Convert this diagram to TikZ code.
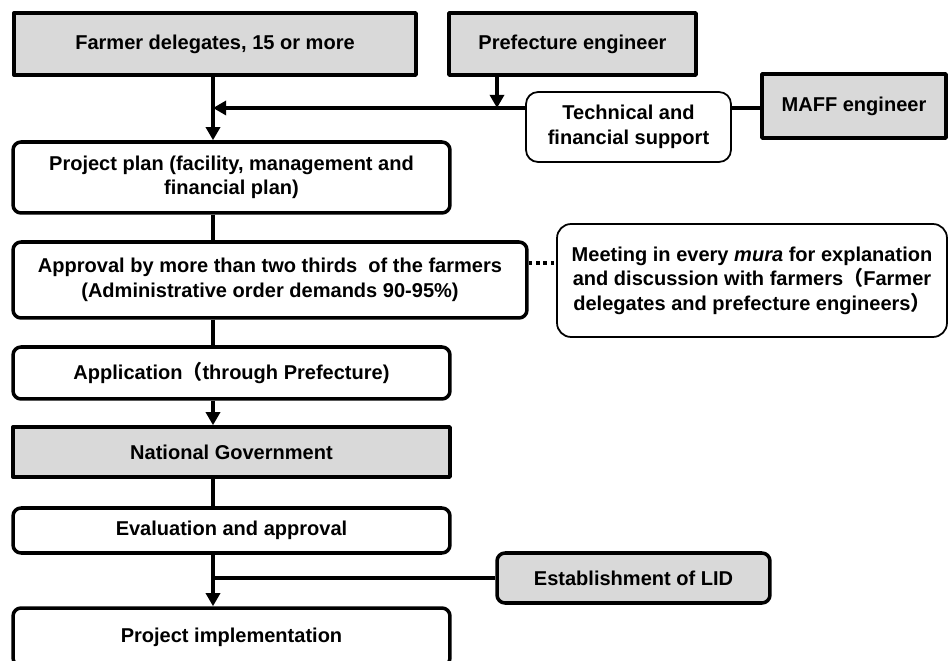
\documentclass[tikz,border=0pt]{standalone}
\usepackage{fontspec}
\setmainfont{Liberation Sans}
\newfontfamily\cjk{Noto Sans CJK JP}
\usetikzlibrary{arrows.meta,calc,positioning}
\definecolor{boxgray}{RGB}{217,217,217}
\tikzset{
  box/.style={draw=black,line width=2pt,align=center,inner sep=2pt,
    font=\bfseries\fontsize{11.4}{14}\selectfont},
  graybox/.style={box,fill=boxgray},
  roundbox/.style={box,fill=white,rounded corners=0.16cm},
  softbox/.style={box,fill=white,line width=1pt,rounded corners=0.28cm},
  link/.style={line width=2pt},
}

\begin{document}
\begin{tikzpicture}[x=0.02cm,y=-0.02cm,>={Triangle[width=8pt,length=7.5pt]},line join=round]
\useasboundingbox (0,0) rectangle (949,661);
\clip (0,0) rectangle (949,661);
% Uczestnicy u góry i wsparcie techniczne.
\node[graybox,minimum width=8.04cm,minimum height=1.24cm] (farmers) at (215,44)
 {Farmer delegates, 15 or more};
\node[graybox,minimum width=4.94cm,minimum height=1.24cm] (prefeng) at (572.5,44)
 {Prefecture engineer};
\node[graybox,minimum width=3.68cm,minimum height=1.28cm] (maff) at (854,106)
 {MAFF engineer};
\node[softbox,rounded corners=0.24cm,minimum width=4.1cm,minimum height=1.4cm] (support) at (628.5,127)
 {Technical and\\financial support};
% Główny ciąg procedury.
\node[roundbox,minimum width=8.74cm,minimum height=1.42cm] (plan) at (231.5,177.5)
 {Project plan (facility, management and\\financial plan)};
\node[roundbox,minimum width=10.28cm,minimum height=1.52cm] (approval) at (270,280)
 {Approval by more than two thirds\ \ of the farmers\\(Administrative order demands 90-95\%)};
\node[softbox,minimum width=7.8cm,minimum height=2.26cm] (meeting) at (752,280.5)
 {Meeting in every \textit{mura} for explanation\\and discussion with farmers{\cjk （}Farmer\\delegates and prefecture engineers{\cjk ）}};
\node[roundbox,minimum width=8.74cm,minimum height=1.04cm] (application) at (231.5,373)
 {Application{\cjk （}through Prefecture)};
\node[graybox,minimum width=8.74cm,minimum height=1.0cm] (govt) at (231.5,452)
 {National Government};
\node[roundbox,minimum width=8.74cm,minimum height=0.9cm] (evaluation) at (231.5,530.5)
 {Evaluation and approval};
\node[graybox,rounded corners=0.16cm,minimum width=5.46cm,minimum height=1.0cm] (lid) at (633.5,578)
 {Establishment of LID};
\node[roundbox,minimum width=8.74cm,minimum height=1.16cm] (implementation) at (231.5,637)
 {Project implementation};
% Połączenia.
\coordinate (trunk) at (213,0);
\coordinate (drop) at (497,108);
\coordinate (talk) at (540,263);
\draw[link,->] (farmers.south -| trunk) -- (plan.north -| trunk);
\draw[link,->] (prefeng.south -| drop) -- (drop);
\draw[link,->] (support.west |- drop) -- (drop -| trunk);
\draw[link] (support.east |- drop) -- (maff.west |- drop);
\draw[link] (plan.south -| trunk) -- (approval.north -| trunk);
\draw[link,dash pattern=on 2pt off 2.2pt] (approval.east |- talk) -- (meeting.west |- talk);
\draw[link] (approval.south -| trunk) -- (application.north -| trunk);
\draw[link,->] (application.south -| trunk) -- (govt.north -| trunk);
\draw[link] (govt.south -| trunk) -- (evaluation.north -| trunk);
\draw[link,->] (evaluation.south -| trunk) -- (implementation.north -| trunk);
\draw[link] (lid.west) -- (lid.west -| trunk);
\end{tikzpicture}
\end{document}
